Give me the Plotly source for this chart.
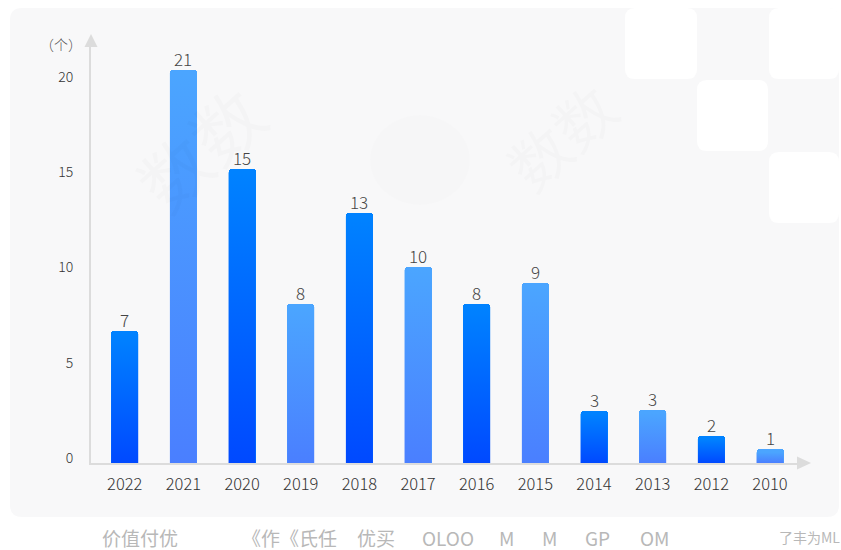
import plotly.graph_objects as go

# ---------------- data ----------------
years = ["2022", "2021", "2020", "2019", "2018", "2017", "2016", "2015", "2014", "2013", "2012", "2010"]
counts = [7, 21, 15, 8, 13, 10, 8, 9, 3, 3, 2, 1]                      # value labels
bar_heights = [6.93, 20.62, 15.41, 8.34, 13.10, 10.30, 8.34, 9.43, 2.74, 2.78, 1.42, 0.72]  # drawn heights
y_ticks = [0, 5, 10, 15, 20]
y_unit_label = "（个）"
footer_texts = ["价值付优", "《作《氏任", "优买", "OLOO", "M", "M", "GP", "OM", "了丰为ML"]
footer_x_px = [100, 240, 355, 420, 497, 540, 583, 638, 777]
footer_sizes = [19, 19, 19, 19, 19, 19, 19, 19, 14]

# ---------------- layout geometry ----------------
W, H = 841, 550
L, R, T, B = 91, 797, 47, 463
PX_PER_UNIT = 19.06
x_range = [-0.575, 11.46]
y_range = [0, (B - T) / PX_PER_UNIT]
BAR_W = 0.46

FONT = "Noto Sans CJK SC"
TOP_A, BOT_A = "#0082ff", "#0049ff"
TOP_B, BOT_B = "#4ba5ff", "#4a7fff"
AXIS_C = "#dcdcdc"


def px2x(px):
    return (px - L) / (R - L)


def py2y(py):
    return (B - py) / (B - T)


def rrect(x0, y0, x1, y1, r):
    rx = r / (R - L)
    ry = r / (B - T)
    X0, X1 = px2x(x0), px2x(x1)
    Y0, Y1 = py2y(y0), py2y(y1)
    return (f"M {X0+rx},{Y0} L {X1-rx},{Y0} Q {X1},{Y0} {X1},{Y0-ry} "
            f"L {X1},{Y1+ry} Q {X1},{Y1} {X1-rx},{Y1} L {X0+rx},{Y1} "
            f"Q {X0},{Y1} {X0},{Y1+ry} L {X0},{Y0-ry} Q {X0},{Y0} {X0+rx},{Y0} Z")


fig = go.Figure()

xs = list(range(len(years)))
top_colors = [TOP_A if i % 2 == 0 else TOP_B for i in xs]
bot_colors = [BOT_A if i % 2 == 0 else BOT_B for i in xs]

fig.add_trace(go.Bar(
    x=xs, y=bar_heights, width=BAR_W,
    marker=dict(color=top_colors, line=dict(width=0), cornerradius=3),
    hoverinfo="skip", showlegend=False,
))

cap = 3 / PX_PER_UNIT
for i, h in zip(xs, bar_heights):
    top = max(h - cap, 0)
    x0, x1 = i - BAR_W / 2, i + BAR_W / 2
    fig.add_trace(go.Scatter(
        x=[x0, x1, x1, x0, x0], y=[0, 0, top, top, 0],
        fill="toself", mode="none",
        fillgradient=dict(type="vertical",
                          colorscale=[[0, bot_colors[i]], [1, top_colors[i]]]),
        hoverinfo="skip", showlegend=False,
    ))

annotations = []
for i, (h, c) in enumerate(zip(bar_heights, counts)):
    annotations.append(dict(
        x=i, y=h, xref="x", yref="y", text=str(c), showarrow=False,
        yanchor="bottom", yshift=-3,
        font=dict(family=FONT, size=17, color="#444444", weight=300),
    ))

annotations.append(dict(
    x=px2x(61), y=py2y(44), xref="paper", yref="paper", text=y_unit_label,
    showarrow=False, xanchor="center", yanchor="middle",
    font=dict(family=FONT, size=14, color="#555555", weight=300),
))

for t, xp, s in zip(footer_texts, footer_x_px, footer_sizes):
    annotations.append(dict(
        x=px2x(xp), y=py2y(537), xref="paper", yref="paper", text=t,
        showarrow=False, xanchor="left", yanchor="middle",
        font=dict(family=FONT, size=s, color="#b8b8b8"),
    ))

wm = [("数数", 110, 60, 70), ("数数", 560, 60, 60), ("T H I N K I N G", 100, 150, 16),
      ("T H I N K I N G", 620, 110, 16)]
for t, xp, yp, s in wm:
    annotations.append(dict(
        x=px2x(xp), y=py2y(yp), xref="paper", yref="paper", text=t,
        showarrow=False, textangle=-42,
        font=dict(family=FONT, size=s, color="rgba(0,0,0,0.015)"),
    ))

shapes = []
shapes.append(dict(type="path", path=rrect(10, 8, 839, 517, 12), xref="paper", yref="paper",
                   fillcolor="#f8f8f9", line=dict(width=0), layer="below"))
for (x0, y0, x1, y1) in [(625, 8, 697, 79), (769, 8, 839, 79), (697, 80, 768, 151), (769, 152, 839, 223)]:
    shapes.append(dict(type="path", path=rrect(x0, y0, x1, y1, 10), xref="paper", yref="paper",
                       fillcolor="#ffffff", line=dict(width=0), layer="below"))
shapes.append(dict(type="circle", xref="paper", yref="paper",
                   x0=px2x(370), x1=px2x(470), y0=py2y(205), y1=py2y(115),
                   fillcolor="rgba(0,0,0,0.006)", line=dict(width=0), layer="below"))
shapes.append(dict(type="path", xref="paper", yref="paper",
                   path=f"M {px2x(91)},{py2y(34)} L {px2x(97.5)},{py2y(47)} L {px2x(84.5)},{py2y(47)} Z",
                   fillcolor=AXIS_C, line=dict(width=0)))
shapes.append(dict(type="path", xref="paper", yref="paper",
                   path=f"M {px2x(811)},{py2y(463)} L {px2x(797)},{py2y(456.5)} L {px2x(797)},{py2y(469.5)} Z",
                   fillcolor=AXIS_C, line=dict(width=0)))

fig.update_layout(
    width=W, height=H, autosize=False,
    margin=dict(l=L, r=W - R, t=T, b=H - B, pad=0),
    paper_bgcolor="#ffffff", plot_bgcolor="rgba(0,0,0,0)",
    showlegend=False, bargap=0,
    xaxis=dict(range=x_range, tickmode="array", tickvals=xs, ticktext=years,
               showline=True, linecolor=AXIS_C, linewidth=2, showgrid=False, zeroline=False,
               ticks="", ticklabelstandoff=5, fixedrange=True,
               tickfont=dict(family=FONT, size=16.5, color="#333333", weight=300)),
    yaxis=dict(range=y_range, tickmode="array", tickvals=y_ticks,
               showline=True, linecolor=AXIS_C, linewidth=2, showgrid=False, zeroline=False,
               ticks="", ticklabelstandoff=13, ticklabelshift=-5, fixedrange=True,
               tickfont=dict(family=FONT, size=14, color="#333333", weight=300)),
    annotations=annotations, shapes=shapes,
    font=dict(family=FONT),
)

fig.write_html("out.html", config={"displayModeBar": False},
               post_script="document.body.style.margin='0';document.body.style.overflow='hidden';")
